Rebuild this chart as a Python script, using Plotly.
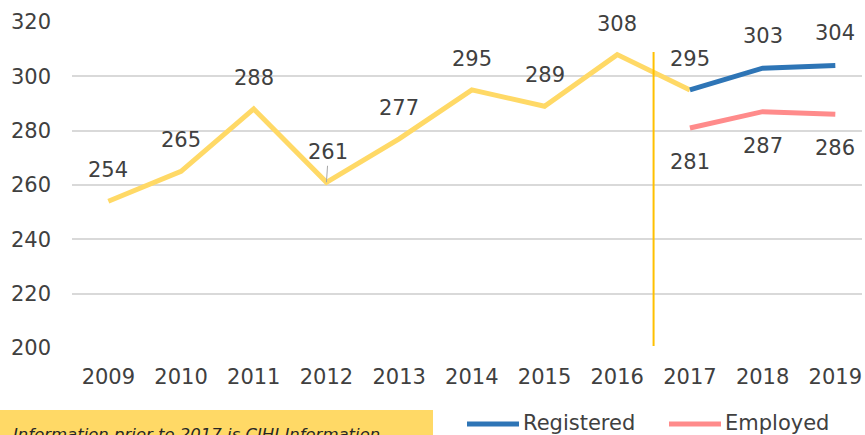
import plotly.graph_objects as go

# 데이터
years = [2009, 2010, 2011, 2012, 2013, 2014, 2015, 2016, 2017, 2018, 2019]
cihi_years = years[:9]
cihi_values = [254, 265, 288, 261, 277, 295, 289, 308, 295]
new_years = years[8:]
registered = [295, 303, 304]
employed = [281, 287, 286]
series_names = ["Registered", "Employed"]
series_colors = ["#2E75B6", "#FF8B8B"]
note_text = "Information prior to 2017 is CIHI Information."

FONT = "DejaVu Sans, Verdana, sans-serif"
TXT = "#404040"
FS = 21

# 플롯 영역 (화면 픽셀)
PL, PR, PT, PB = 72, 862, 22, 348


def px_x(p):
    # 화면 픽셀 -> paper 좌표
    return (p - PL) / (PR - PL)


def px_y(p):
    # 화면 픽셀 -> paper 좌표
    return (PB - p) / (PB - PT)


fig = go.Figure()
fig.add_trace(go.Scatter(x=cihi_years, y=cihi_values, mode="lines",
                         line=dict(color="#FFD966", width=5), showlegend=False))
fig.add_trace(go.Scatter(x=new_years, y=registered, mode="lines", name=series_names[0],
                         line=dict(color=series_colors[0], width=5), showlegend=False))
fig.add_trace(go.Scatter(x=new_years, y=employed, mode="lines", name=series_names[1],
                         line=dict(color=series_colors[1], width=5), showlegend=False))

# 데이터 라벨
annotations = []
for x, v in zip(cihi_years, cihi_values):
    lead = (x == 2012)
    annotations.append(dict(x=x, y=v, text=str(v), showarrow=lead, arrowhead=0,
                            arrowwidth=1, arrowcolor="#A6A6A6", ax=2, ay=-30,
                            standoff=0, yshift=0 if lead else 31,
                            font=dict(size=FS, color=TXT, family=FONT)))
for x, v in zip(new_years[1:], registered[1:]):
    annotations.append(dict(x=x, y=v, text=str(v), showarrow=False, yshift=32,
                            font=dict(size=FS, color=TXT, family=FONT)))
for x, v in zip(new_years, employed):
    annotations.append(dict(x=x, y=v, text=str(v), showarrow=False, yshift=-34,
                            font=dict(size=FS, color=TXT, family=FONT)))

# 하단 안내 문구
annotations.append(dict(xref="paper", yref="paper", x=px_x(11), y=px_y(434),
                        xanchor="left", yanchor="middle", text=note_text, showarrow=False,
                        font=dict(size=16.5, color="#262626", family=FONT, style="italic")))

shapes = [
    dict(type="line", xref="x", yref="paper", x0=2016.5, x1=2016.5,
         y0=px_y(52), y1=px_y(346), line=dict(color="#FFC000", width=2)),
    dict(type="rect", xref="paper", yref="paper", x0=px_x(0), x1=px_x(433),
         y0=px_y(410), y1=px_y(445), fillcolor="#FFD966", line=dict(width=0),
         layer="below"),
]

# 범례 (수동)
legend_x = [467, 669]
for name, color, lx in zip(series_names, series_colors, legend_x):
    shapes.append(dict(type="line", xref="paper", yref="paper", x0=px_x(lx),
                       x1=px_x(lx + 52), y0=px_y(424), y1=px_y(424),
                       line=dict(color=color, width=5)))
    annotations.append(dict(xref="paper", yref="paper", x=px_x(lx + 54), y=px_y(423),
                            xanchor="left", yanchor="middle", text=name, showarrow=False,
                            font=dict(size=21, color=TXT, family=FONT)))

fig.update_layout(
    width=865, height=435,
    margin=dict(l=PL, r=865 - PR, t=PT, b=435 - PB),
    paper_bgcolor="white", plot_bgcolor="white",
    font=dict(family=FONT, size=FS, color=TXT),
    xaxis=dict(range=[2008.5, 2019.367], tickmode="array", tickvals=years,
               ticktext=[str(y) for y in years], showgrid=False, showline=False,
               zeroline=False, ticks="", tickfont=dict(size=FS, color=TXT),
               ticklabelstandoff=14),
    yaxis=dict(range=[200, 320], dtick=20, showgrid=True, gridcolor="#D9D9D9",
               gridwidth=1.5, zeroline=False, showline=False, ticks="",
               tickfont=dict(size=FS, color=TXT), ticklabelstandoff=20),
    showlegend=False,
    annotations=annotations,
    shapes=shapes,
)

# 페이지 기본 여백(8px) 제거
fig.write_html("out.html", config={"displayModeBar": False},
               post_script="document.body.style.margin='0';document.body.style.overflow='hidden';")
